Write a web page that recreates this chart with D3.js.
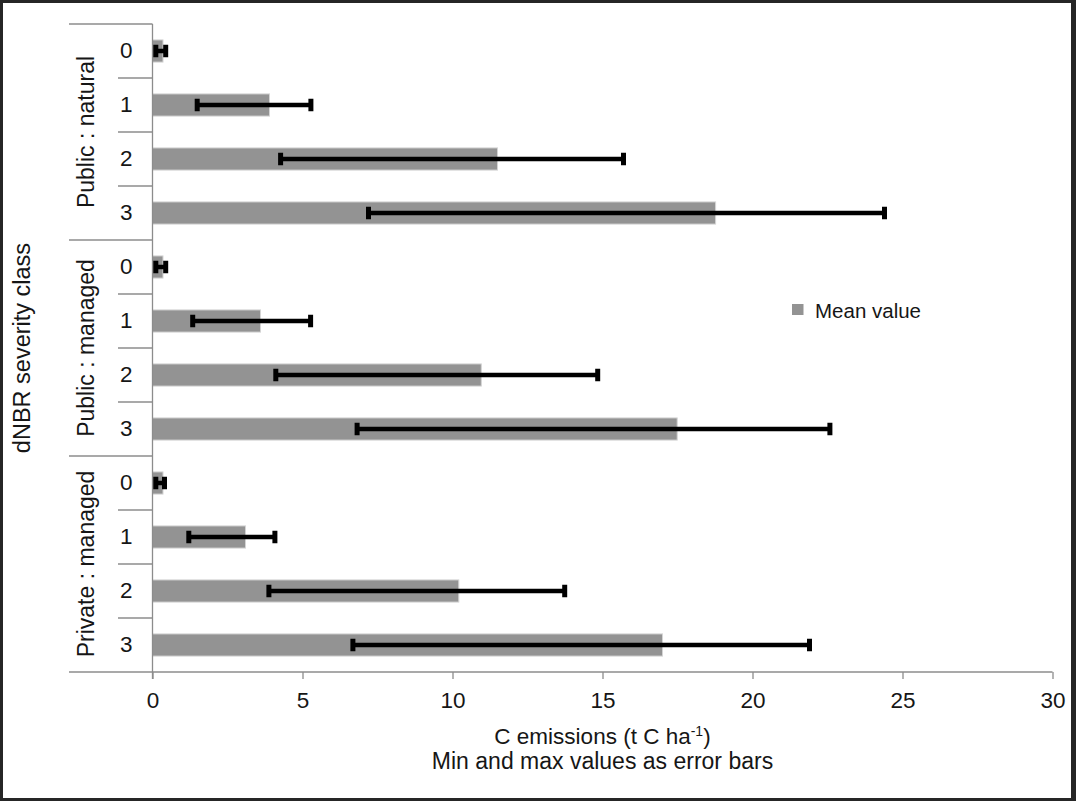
<!DOCTYPE html>
<html>
<head>
<meta charset="utf-8">
<script src="https://cdn.jsdelivr.net/npm/d3@7"></script>
<style>
  html, body { margin: 0; padding: 0; background: #262626; }
  svg { display: block; }
  text { font-family: "Liberation Sans", Arial, sans-serif; fill: #161616; }
</style>
</head>
<body>
<svg id="mainSVG" width="1076" height="801"></svg>
<script>
var $svg = d3.select("#mainSVG");

// data
var groups = ["Public : natural", "Public : managed", "Private : managed"];
var classes = ["0", "1", "2", "3"];

var meanPN = [0.35, 3.9, 11.5, 18.77];
var minPN  = [0.11, 1.49, 4.27, 7.2];
var maxPN  = [0.44, 5.28, 15.7, 24.4];

var meanPM = [0.35, 3.6, 10.96, 17.49];
var minPM  = [0.11, 1.34, 4.11, 6.82];
var maxPM  = [0.44, 5.27, 14.84, 22.58];

var meanPrM = [0.35, 3.1, 10.21, 17.0];
var minPrM  = [0.11, 1.21, 3.88, 6.68];
var maxPrM  = [0.4, 4.08, 13.74, 21.9];

var xTicks = [0, 5, 10, 15, 20, 25, 30];

var means = [meanPN, meanPM, meanPrM];
var mins = [minPN, minPM, minPrM];
var maxs = [maxPN, maxPM, maxPrM];

var rows = [];
groups.forEach((g, gi) => {
    classes.forEach((c, ci) => {
        rows.push({key: gi + '-' + c, group: g, cls: c, mean: means[gi][ci], min: mins[gi][ci], max: maxs[gi][ci]});
    });
});

// layout
var plotTop = 24, plotBottom = 672;
var plotLeft = 152.5, plotRight = 1052.5;
var groupLineX = 69, catLineX = 118;
var barColor = '#939393';
var axisColor = '#8c8c8c';
var fontFam = '"Liberation Sans", Arial, sans-serif';

// white sheet inside the dark frame
$svg.append('rect')
    .attr('x', 3).attr('y', 3)
    .attr('width', 1068).attr('height', 795)
    .attr('fill', '#fff');

var x = d3.scaleLinear().domain([0, 30]).range([plotLeft, plotRight]);
var y = d3.scaleBand().domain(rows.map(d => d.key))
    .range([plotTop, plotBottom])
    .paddingInner(0.59).paddingOuter(0.295);
var yGroup = d3.scaleBand().domain(groups).range([plotTop, plotBottom]);
var step = y.step();

// separator lines on the left
var $sep = $svg.append('g').attr('id', 'separators')
    .attr('stroke', axisColor).attr('stroke-width', 1.3);

rows.forEach((d, i) => {
    if (i % 4 == 0) return;
    let yy = y(d.key) - step * y.paddingInner() / 2;
    $sep.append('line')
        .attr('x1', catLineX).attr('x2', plotLeft)
        .attr('y1', yy).attr('y2', yy);
});
groups.forEach(g => {
    $sep.append('line')
        .attr('x1', groupLineX).attr('x2', plotLeft)
        .attr('y1', yGroup(g)).attr('y2', yGroup(g));
});

// bottom axis
var $xAxis = $svg.append('g').attr('id', 'x-axis')
    .attr('transform', `translate(0 ${plotBottom})`)
    .call(d3.axisBottom(x).tickValues(xTicks).tickFormat(d3.format('d'))
        .tickSize(7).tickSizeOuter(0).tickPadding(13));
$xAxis.select('.domain').remove();
$xAxis.selectAll('line').attr('stroke', axisColor).attr('stroke-width', 1.3);
$xAxis.selectAll('text').attr('font-size', 22.5).attr('fill', '#161616')
    .attr('font-family', fontFam);

$svg.append('line')
    .attr('x1', groupLineX).attr('x2', plotRight)
    .attr('y1', plotBottom).attr('y2', plotBottom)
    .attr('stroke', axisColor).attr('stroke-width', 1.3);

// left axis: class labels
var $yAxis = $svg.append('g').attr('id', 'y-axis')
    .attr('transform', `translate(${plotLeft} 0)`)
    .call(d3.axisLeft(y).tickSize(0).tickPadding(20).tickFormat((k, i) => rows[i].cls));
$yAxis.select('.domain').remove();
$yAxis.selectAll('text').attr('font-size', 22.5).attr('fill', '#161616')
    .attr('font-family', fontFam);

// group labels
$svg.append('g').attr('id', 'group-labels')
    .selectAll('text').data(groups).enter().append('text')
    .attr('transform', g => `translate(94 ${yGroup(g) + yGroup.bandwidth() / 2}) rotate(-90)`)
    .attr('text-anchor', 'middle')
    .attr('font-size', 23)
    .text(g => g);

// bars
$svg.append('g').attr('id', 'bars')
    .selectAll('rect').data(rows).enter().append('rect')
    .attr('x', x(0))
    .attr('y', d => y(d.key))
    .attr('width', d => x(d.mean) - x(0))
    .attr('height', y.bandwidth())
    .attr('fill', barColor)
    .attr('stroke', '#d4d4d4').attr('stroke-width', 1);

// vertical axis line drawn over bars
$svg.append('line')
    .attr('x1', plotLeft).attr('x2', plotLeft)
    .attr('y1', plotTop).attr('y2', plotBottom + 7)
    .attr('stroke', axisColor).attr('stroke-width', 1.3);

// error bars
var capH = 12.5, capW = 5;
var $err = $svg.append('g').attr('id', 'error-bars');
$err.selectAll('line').data(rows).enter().append('line')
    .attr('x1', d => x(d.min)).attr('x2', d => x(d.max))
    .attr('y1', d => y(d.key) + y.bandwidth() / 2)
    .attr('y2', d => y(d.key) + y.bandwidth() / 2)
    .attr('stroke', '#000').attr('stroke-width', 4.5);
$err.selectAll('rect.capmin').data(rows).enter().append('rect')
    .attr('class', 'capmin')
    .attr('x', d => x(d.min) - capW / 2)
    .attr('y', d => y(d.key) + y.bandwidth() / 2 - capH / 2)
    .attr('width', capW).attr('height', capH)
    .attr('fill', '#000');
$err.selectAll('rect.capmax').data(rows).enter().append('rect')
    .attr('class', 'capmax')
    .attr('x', d => x(d.max) - capW / 2)
    .attr('y', d => y(d.key) + y.bandwidth() / 2 - capH / 2)
    .attr('width', capW).attr('height', capH)
    .attr('fill', '#000');

// legend
var $legend = $svg.append('g').attr('id', 'legend').attr('transform', 'translate(792 304)');
$legend.append('rect').attr('width', 11.5).attr('height', 11).attr('fill', barColor);
$legend.append('text').attr('x', 23).attr('y', 14).attr('font-size', 20.5).text('Mean value');

// axis titles
var xMid = (plotLeft + plotRight) / 2;
var $xt = $svg.append('text')
    .attr('x', xMid).attr('y', 744)
    .attr('text-anchor', 'middle').attr('font-size', 22.5);
$xt.append('tspan').text('C emissions (t C ha');
$xt.append('tspan').attr('font-size', 14).attr('dy', -8).text('-1');
$xt.append('tspan').attr('dy', 8).text(')');

$svg.append('text')
    .attr('x', xMid).attr('y', 769)
    .attr('text-anchor', 'middle').attr('font-size', 23)
    .text('Min and max values as error bars');

$svg.append('text')
    .attr('transform', `translate(30 ${(plotTop + plotBottom) / 2}) rotate(-90)`)
    .attr('text-anchor', 'middle').attr('font-size', 23.5)
    .text('dNBR severity class');
</script>
</body>
</html>
